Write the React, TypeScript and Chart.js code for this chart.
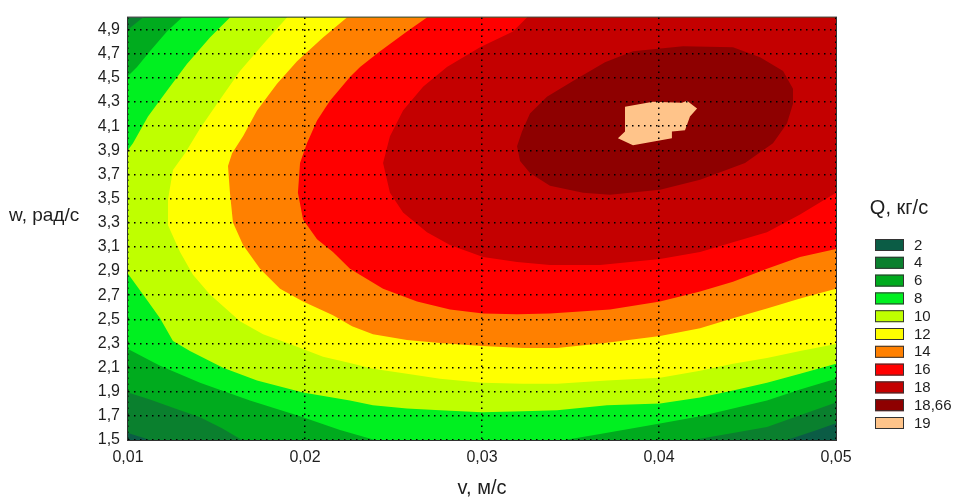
import React, { useEffect, useRef } from "react";
import { Chart, registerables } from "chart.js";

Chart.register(...registerables);

// ---------- data ----------
const X_TICKS = [0.01, 0.02, 0.03, 0.04, 0.05];
const X_TICK_LABELS = ["0,01", "0,02", "0,03", "0,04", "0,05"];
const Y_TICKS = [1.5, 1.7, 1.9, 2.1, 2.3, 2.5, 2.7, 2.9, 3.1, 3.3, 3.5, 3.7, 3.9, 4.1, 4.3, 4.5, 4.7, 4.9];
const Y_TICK_LABELS = ["1,5", "1,7", "1,9", "2,1", "2,3", "2,5", "2,7", "2,9", "3,1", "3,3", "3,5", "3,7", "3,9", "4,1", "4,3", "4,5", "4,7", "4,9"];

const X_TITLE = "v, м/с";
const Y_TITLE = "w, рад/с";
const LEGEND_TITLE = "Q, кг/с";

const LEVEL_LABELS = ["2", "4", "6", "8", "10", "12", "14", "16", "18", "18,66", "19"];
const LEVEL_COLORS = ["#0b5c45", "#0a802e", "#00ab1e", "#00f020", "#bfff00", "#ffff00", "#ff8000", "#ff0000", "#c40000", "#8e0000", "#ffc48a"];

// contour regions (v, w), each the area where Q exceeds the previous level
const BAND_2 = [[0.005, 1.3], [0.055, 1.3], [0.055, 5.2], [0.005, 5.2]];
const BAND_4 = [[0.005, 5.2], [0.055, 5.2], [0.055, 1.65], [0.05, 1.639], [0.04893, 1.582], [0.04723, 1.5], [0.0472, 1.3], [0.0112, 1.3], [0.01124, 1.5], [0.01, 1.557], [0.005, 1.56]];
const BAND_6 = [[0.005, 4.9], [0.01, 4.902], [0.01085, 5.0], [0.0109, 5.2], [0.055, 5.2], [0.055, 1.82], [0.05, 1.811], [0.04797, 1.705], [0.0461, 1.607], [0.04418, 1.557], [0.04192, 1.5], [0.0419, 1.3], [0.01644, 1.3], [0.01644, 1.5], [0.01531, 1.598], [0.01407, 1.689], [0.01266, 1.762], [0.01124, 1.836], [0.01, 1.893], [0.005, 1.9]];
const BAND_8 = [[0.005, 4.5], [0.01, 4.516], [0.01051, 4.59], [0.01124, 4.721], [0.0122, 4.885], [0.01305, 5.0], [0.0131, 5.2], [0.055, 5.2], [0.055, 2.0], [0.05, 2.008], [0.04797, 1.918], [0.0461, 1.828], [0.04418, 1.762], [0.04232, 1.697], [0.04045, 1.648], [0.03853, 1.598], [0.03667, 1.549], [0.03469, 1.5], [0.0347, 1.3], [0.02395, 1.3], [0.02395, 1.5], [0.02198, 1.582], [0.01972, 1.697], [0.01689, 1.828], [0.01407, 1.975], [0.01181, 2.115], [0.01, 2.254], [0.005, 2.26]];
const BAND_10 = [[0.005, 3.9], [0.01, 3.902], [0.01028, 3.959], [0.01113, 4.18], [0.0122, 4.393], [0.01333, 4.615], [0.01463, 4.836], [0.01576, 5.0], [0.0158, 5.2], [0.055, 5.2], [0.055, 2.13], [0.05, 2.131], [0.04797, 2.049], [0.0461, 1.975], [0.04418, 1.91], [0.04232, 1.852], [0.04006, 1.803], [0.03706, 1.787], [0.03424, 1.746], [0.03232, 1.738], [0.03, 1.73], [0.02763, 1.746], [0.02576, 1.762], [0.02384, 1.787], [0.02254, 1.828], [0.01989, 1.893], [0.01729, 1.992], [0.01537, 2.098], [0.0135, 2.238], [0.01254, 2.32], [0.01181, 2.508], [0.01085, 2.705], [0.01, 2.877], [0.005, 2.88]];
const BAND_12 = [[0.0189, 5.2], [0.01898, 5.0], [0.01763, 4.779], [0.01633, 4.557], [0.01503, 4.287], [0.01407, 4.082], [0.01322, 3.877], [0.01254, 3.738], [0.01226, 3.492], [0.01226, 3.279], [0.01294, 3.057], [0.01367, 2.869], [0.01463, 2.705], [0.01633, 2.484], [0.01763, 2.377], [0.01915, 2.295], [0.02102, 2.189], [0.02254, 2.139], [0.02384, 2.09], [0.02576, 2.049], [0.02763, 2.008], [0.03, 1.975], [0.03232, 1.967], [0.03424, 1.967], [0.03706, 1.992], [0.04006, 2.016], [0.04232, 2.074], [0.04418, 2.131], [0.0461, 2.18], [0.04797, 2.238], [0.05, 2.295], [0.055, 2.3], [0.055, 5.2]];
const BAND_14 = [[0.0223, 5.2], [0.02237, 5.0], [0.02102, 4.836], [0.01955, 4.639], [0.01842, 4.451], [0.01729, 4.23], [0.0165, 4.016], [0.01588, 3.877], [0.01565, 3.77], [0.01576, 3.549], [0.01593, 3.303], [0.0165, 3.115], [0.01746, 2.918], [0.01859, 2.754], [0.01989, 2.648], [0.02158, 2.533], [0.02266, 2.443], [0.02384, 2.377], [0.02576, 2.328], [0.02763, 2.303], [0.03, 2.279], [0.03232, 2.262], [0.03424, 2.262], [0.03695, 2.303], [0.04006, 2.361], [0.04232, 2.426], [0.04418, 2.508], [0.0461, 2.59], [0.04797, 2.672], [0.05, 2.754], [0.055, 2.76], [0.055, 5.2]];
const BAND_16 = [[0.0268, 5.2], [0.02689, 5.0], [0.02576, 4.885], [0.02424, 4.721], [0.02311, 4.59], [0.02254, 4.508], [0.02141, 4.311], [0.02068, 4.148], [0.02011, 3.959], [0.01972, 3.795], [0.0196, 3.549], [0.01989, 3.328], [0.02068, 3.164], [0.02158, 3.057], [0.02254, 2.918], [0.02441, 2.754], [0.02633, 2.648], [0.02819, 2.582], [0.03006, 2.549], [0.03198, 2.541], [0.03384, 2.549], [0.03723, 2.582], [0.04006, 2.648], [0.04232, 2.73], [0.04418, 2.811], [0.0461, 2.918], [0.04797, 3.016], [0.05, 3.082], [0.055, 3.09], [0.055, 5.2]];
const BAND_18 = [[0.0325, 5.2], [0.03254, 5.0], [0.03175, 4.885], [0.02989, 4.754], [0.02802, 4.59], [0.02667, 4.426], [0.02554, 4.23], [0.0248, 4.016], [0.02441, 3.795], [0.0248, 3.549], [0.02554, 3.385], [0.02689, 3.221], [0.02819, 3.115], [0.03006, 3.016], [0.03198, 2.975], [0.03384, 2.951], [0.03667, 2.951], [0.04006, 3.0], [0.04232, 3.057], [0.04418, 3.139], [0.0461, 3.221], [0.04797, 3.369], [0.05, 3.549], [0.055, 3.56], [0.055, 5.2]];
const BAND_1866 = [[0.03198, 3.934], [0.03226, 4.057], [0.03271, 4.205], [0.03367, 4.344], [0.03514, 4.475], [0.03695, 4.631], [0.03853, 4.721], [0.04136, 4.762], [0.04418, 4.754], [0.04571, 4.672], [0.04701, 4.557], [0.04757, 4.41], [0.04757, 4.287], [0.04723, 4.123], [0.04644, 3.959], [0.04486, 3.795], [0.04232, 3.656], [0.04006, 3.574], [0.03723, 3.533], [0.03571, 3.549], [0.03384, 3.607], [0.03271, 3.713], [0.03215, 3.811]];
const BAND_19 = [[0.03808, 4.262], [0.03966, 4.303], [0.0413, 4.295], [0.04158, 4.311], [0.04215, 4.246], [0.04175, 4.18], [0.04147, 4.066], [0.04073, 4.057], [0.04073, 4.0], [0.03853, 3.943], [0.03768, 4.0], [0.03808, 4.057]];

const BANDS = [BAND_2, BAND_4, BAND_6, BAND_8, BAND_10, BAND_12, BAND_14, BAND_16, BAND_18, BAND_1866, BAND_19];

// ---------- helpers ----------
const FONT = '"Liberation Sans", Arial, sans-serif';
const TEXT = "#1e1e1e";

// closed ring -> path whose first/last points span the whole x-range (zero-area spurs)
function ringToPath(ring: number[][]) {
  const pts = ring.map(([x, y]) => ({ x, y }));
  const farL = { x: -1, y: 100 };
  const farR = { x: 1, y: 100 };
  return [farL, ...pts, pts[0], farL, farR];
}

const overlayPlugin = {
  id: "overlay",
  afterDraw(chart: any) {
    const { ctx, chartArea: a } = chart;
    ctx.save();
    // frame
    ctx.strokeStyle = "#333";
    ctx.lineWidth = 1;
    ctx.strokeRect(a.left - 0.5, a.top - 0.5, a.right - a.left + 1, a.bottom - a.top + 1);
    // y title (horizontal)
    ctx.fillStyle = TEXT;
    ctx.font = `19px ${FONT}`;
    ctx.textAlign = "left";
    ctx.textBaseline = "middle";
    ctx.fillText(Y_TITLE, 9, 216);
    // legend
    ctx.font = `20px ${FONT}`;
    ctx.textAlign = "center";
    ctx.fillText(LEGEND_TITLE, 899, 208);
    ctx.font = `15px ${FONT}`;
    ctx.textAlign = "left";
    const ds = chart.data.datasets;
    for (let i = 0; i < ds.length; i++) {
      const y = 239 + i * 17.8;
      ctx.fillStyle = ds[i].backgroundColor;
      ctx.fillRect(875, y, 29, 12);
      ctx.strokeStyle = "#333";
      ctx.lineWidth = 1;
      ctx.strokeRect(875.5, y + 0.5, 28, 11);
      ctx.fillStyle = TEXT;
      ctx.fillText(ds[i].label, 914, y + 6.5);
    }
    ctx.restore();
  },
};

export default function App() {
  const ref = useRef<HTMLCanvasElement | null>(null);

  useEffect(() => {
    document.body.style.margin = "0";
    if (!ref.current) return;
    Chart.defaults.font.family = FONT;
    const chart = new Chart(ref.current, {
      type: "line",
      data: {
        datasets: BANDS.map((ring, i) => ({
          label: LEVEL_LABELS[i],
          data: ringToPath(ring),
          fill: "shape",
          backgroundColor: LEVEL_COLORS[i],
          borderColor: "rgba(0,0,0,0)",
          borderWidth: 0,
          pointRadius: 0,
          tension: 0,
          order: BANDS.length - i,
        })),
      },
      options: {
        responsive: false,
        animation: false,
        events: [],
        layout: { padding: { left: 0, right: 123, top: 13, bottom: 0 } },
        plugins: {
          legend: { display: false },
          tooltip: { enabled: false },
        },
        scales: {
          x: {
            type: "linear",
            min: 0.01,
            max: 0.05,
            bounds: "data",
            afterBuildTicks: (s: any) => {
              s.ticks = X_TICKS.map((v) => ({ value: v }));
            },
            afterFit: (s: any) => {
              s.height = 57;
            },
            ticks: {
              callback: (_v: any, i: number) => X_TICK_LABELS[i],
              font: { size: 16 },
              color: TEXT,
              padding: 8,
              maxRotation: 0,
              autoSkip: false,
            },
            grid: { color: "#000", lineWidth: 1.5, drawTicks: false, z: 1 },
            border: { display: false, dash: [1.5, 4.5] },
            title: {
              display: true,
              text: X_TITLE,
              font: { size: 20, lineHeight: 1 },
              color: TEXT,
              padding: { top: 0, bottom: -1 },
            },
          },
          y: {
            type: "linear",
            min: 1.5,
            max: 5.0,
            bounds: "data",
            afterBuildTicks: (s: any) => {
              s.ticks = Y_TICKS.map((v) => ({ value: v }));
            },
            afterFit: (s: any) => {
              s.width = 128;
            },
            ticks: {
              callback: (_v: any, i: number) => Y_TICK_LABELS[i],
              font: { size: 16 },
              color: TEXT,
              padding: 8,
              autoSkip: false,
            },
            grid: { color: "#000", lineWidth: 1.5, drawTicks: false, z: 1 },
            border: { display: false, dash: [1.5, 4.5] },
          },
        },
      },
      plugins: [overlayPlugin],
    } as any);
    return () => chart.destroy();
  }, []);

  return (
    <div style={{ width: 959, height: 497 }}>
      <canvas ref={ref} width={959} height={497} style={{ display: "block" }} />
    </div>
  );
}
